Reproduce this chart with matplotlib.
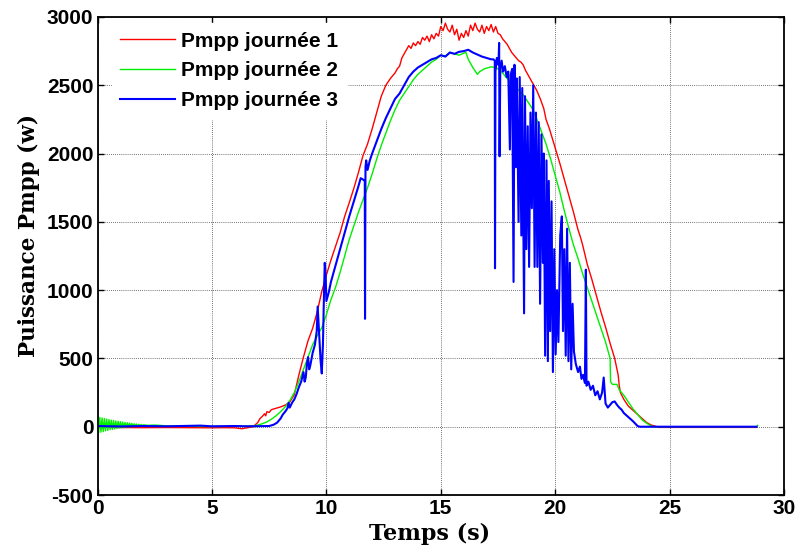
import matplotlib
matplotlib.use("Agg")
import matplotlib.pyplot as plt

plt.rcParams["axes.unicode_minus"] = False

# ---- Journée 1 (red) ----
t_j1 = [0, 0.5, 1, 2, 3, 4, 5, 5.5, 6, 6.3, 6.5, 6.8, 7.0, 7.1, 7.2, 7.3, 7.35, 7.4, 7.5, 7.6,
        7.8, 8.0, 8.2, 8.4, 8.6, 8.8, 9.0, 9.2, 9.4, 9.6, 9.8, 10.0, 10.2, 10.4, 10.6, 10.8,
        11.0, 11.2, 11.4, 11.6, 11.8, 12.0, 12.2, 12.4, 12.6, 12.8, 13.0, 13.1, 13.2, 13.3,
        13.4, 13.5, 13.6, 13.7, 13.8, 13.9, 14.0, 14.1, 14.2, 14.3, 14.4, 14.5, 14.6, 14.7,
        14.8, 14.9, 15.0, 15.1, 15.2, 15.3, 15.4, 15.5, 15.6, 15.7, 15.8, 15.9, 16.0, 16.1,
        16.2, 16.3, 16.4, 16.5, 16.6, 16.7, 16.8, 16.9, 17.0, 17.1, 17.2, 17.3, 17.4, 17.5,
        17.6, 17.7, 17.8, 17.9, 18.0, 18.1, 18.2, 18.3, 18.4, 18.5, 18.6, 18.7, 18.8, 18.9,
        19.0, 19.1, 19.2, 19.35, 19.5, 19.6, 19.75, 19.85, 20.0, 20.2, 20.4, 20.6, 20.8,
        21.0, 21.1, 21.2, 21.3, 21.4, 21.6, 21.8, 22.0, 22.2, 22.4, 22.6, 22.7, 22.75, 22.8,
        22.85, 23.0, 23.2, 23.4, 23.6, 23.8, 24.0, 24.2, 24.45, 24.5, 28.8]
p_j1 = [0, -5, -6, -7, -6, -7, -8, -7, -8, -15, -9, 0, 30, 60, 75, 95, 80, 110, 105, 125,
        135, 145, 158, 180, 235, 380, 510, 630, 720, 840, 990, 1110, 1220, 1320, 1420, 1540,
        1640, 1745, 1860, 1985, 2070, 2180, 2300, 2420, 2500, 2550, 2590, 2620, 2640, 2700,
        2730, 2760, 2790, 2770, 2810, 2790, 2820, 2800, 2850, 2830, 2860, 2820, 2870, 2840,
        2880, 2860, 2930, 2900, 2955, 2910, 2890, 2940, 2870, 2910, 2830, 2880, 2850, 2900,
        2860, 2940, 2900, 2955, 2910, 2890, 2940, 2880, 2930, 2900, 2945, 2890, 2930, 2880,
        2870, 2840, 2820, 2800, 2770, 2740, 2720, 2700, 2680, 2670, 2650, 2610, 2580, 2550,
        2520, 2490, 2460, 2400, 2330, 2250, 2180, 2125, 2040, 1930, 1810, 1690, 1570,
        1440, 1390, 1330, 1260, 1190, 1080, 960, 840, 730, 610, 500, 420, 380, 300,
        250, 200, 150, 120, 90, 60, 30, 12, 0, -5, -5]

# ---- Journée 2 (green) ----
t_j2 = [0.00, 0.05, 0.10, 0.15, 0.20, 0.25, 0.30, 0.35, 0.40, 0.45, 0.50, 0.55, 0.60, 0.65,
        0.70, 0.75, 0.80, 0.85, 0.90, 0.95, 1.00, 1.05, 1.10, 1.15, 1.20, 1.25, 1.30, 1.35,
        1.40, 1.45, 1.50, 1.55, 1.60, 1.65, 1.70, 1.75, 1.80, 1.85, 1.90, 1.95, 2.00, 2.2,
        2.5, 2.8, 3.0, 3.5, 4.0, 5.0, 6.0, 6.8, 7.0, 7.2, 7.4, 7.6, 7.8, 8.0, 8.2, 8.4, 8.6,
        8.8, 9.0, 9.2, 9.4, 9.6, 9.8, 10.0, 10.2, 10.4, 10.6, 10.8, 11.0, 11.2, 11.4, 11.6,
        11.8, 12.0, 12.2, 12.4, 12.6, 12.8, 13.0, 13.2, 13.4, 13.6, 13.8, 14.0, 14.2, 14.4,
        14.6, 14.8, 15.0, 15.2, 15.4, 15.6, 15.8, 16.0, 16.1, 16.2, 16.4, 16.6, 16.7, 16.9,
        17.2, 17.4, 17.6, 17.8, 18.0, 18.2, 18.4, 18.6, 18.8, 19.0, 19.2, 19.4, 19.6, 19.8,
        20.0, 20.2, 20.4, 20.6, 20.8, 21.0, 21.2, 21.4, 21.6, 21.8, 22.0, 22.2, 22.4, 22.42,
        22.5, 22.7, 22.75, 22.8, 23.0, 23.2, 23.4, 23.6, 23.8, 24.0, 24.2, 24.3, 28.8, 28.85]
p_j2 = [75, -45, 68, -40, 64, -36, 60, -30, 56, -28, 52, -22, 48, -20, 45, -16, 42, -13,
        40, -10, 37, -8, 34, -6, 31, -4, 29, -2, 27, 0, 24, 2, 22, 3, 20, 4, 18, 5, 16, 6, 14,
        10, 12, 9, 6, 4, 3, 2, 3, 5, 12, 22, 35, 55, 80, 110, 145, 190, 250, 330, 420, 510,
        600, 665, 725, 820, 930, 1020, 1130, 1250, 1370, 1470, 1570, 1660, 1750, 1850, 1960,
        2060, 2150, 2240, 2320, 2390, 2440, 2490, 2540, 2580, 2610, 2640, 2670, 2690, 2720,
        2715, 2740, 2730, 2720, 2735, 2740, 2690, 2630, 2580, 2600, 2620, 2635, 2630, 2610,
        2570, 2530, 2500, 2465, 2430, 2380, 2330, 2250, 2160, 2070, 1960, 1840, 1720, 1580,
        1450, 1330, 1230, 1120, 1020, 920, 820, 720, 620, 500, 330, 310, 310, 290, 270, 230,
        180, 130, 90, 50, 25, 5, 0, 0, 10]

# ---- Journée 3 (blue) ----
t_j3 = [0, 1, 2, 3, 4.5, 5, 6, 6.5, 7.0, 7.5, 7.7, 7.85, 8.0, 8.1, 8.2, 8.3, 8.35, 8.4, 8.5,
        8.6, 8.7, 8.8, 8.9, 9.0, 9.05, 9.1, 9.15, 9.2, 9.25, 9.3, 9.4, 9.5, 9.58, 9.62, 9.66,
        9.7, 9.75, 9.8, 9.85, 9.9, 9.93, 9.97, 10.0, 10.1, 10.2, 10.4, 10.6, 10.8, 11.0, 11.2,
        11.4, 11.5, 11.6, 11.68, 11.69, 11.71, 11.74, 11.8, 11.9, 12.0, 12.2, 12.4, 12.6,
        12.8, 13.0, 13.2, 13.4, 13.6, 13.8, 14.0, 14.2, 14.4, 14.6, 14.8, 15.0, 15.2, 15.4,
        15.6, 15.8, 16.0, 16.2, 16.4, 16.6, 16.8, 17.0, 17.2, 17.30, 17.36, 17.37, 17.39,
        17.45, 17.52, 17.55, 17.57, 17.60, 17.66, 17.72, 17.80, 17.88, 17.95, 18.02, 18.06,
        18.12, 18.18, 18.22, 18.28, 18.32, 18.40, 18.45, 18.52, 18.56, 18.64, 18.68, 18.74,
        18.80, 18.86, 18.92, 18.98, 19.04, 19.10, 19.16, 19.22, 19.28, 19.34, 19.40, 19.46,
        19.50, 19.56, 19.62, 19.68, 19.72, 19.78, 19.84, 19.90, 19.96, 20.02, 20.08, 20.14,
        20.22, 20.29, 20.34, 20.40, 20.46, 20.52, 20.58, 20.64, 20.70, 20.76, 20.82, 20.90,
        21.00, 21.08, 21.15, 21.22, 21.30, 21.34, 21.37, 21.45, 21.55, 21.65, 21.75, 21.85,
        21.95, 22.05, 22.12, 22.2, 22.3, 22.4, 22.5, 22.6, 22.7, 22.8, 22.9, 23.0, 23.2, 23.4,
        23.6, 23.7, 28.8]
p_j3 = [5, 2, 5, 3, 8, 3, 5, 3, 4, 5, 15, 30, 60, 90, 110, 135, 175, 140, 175,
        200, 240, 290, 330, 400, 330, 360, 460, 510, 420, 450, 540, 600, 700, 880, 760,
        640, 480, 390, 600, 1000, 1200, 1100, 920, 980, 1060, 1180, 1300, 1420, 1540, 1650,
        1760, 1820, 1810, 1800, 790, 1900, 1950, 1880, 1950, 2000, 2090, 2180, 2260,
        2330, 2400, 2440, 2500, 2560, 2600, 2630, 2650, 2670, 2690, 2700, 2720, 2710, 2740,
        2730, 2745, 2750, 2760, 2740, 2725, 2710, 2700, 2690, 2690, 2680, 1160, 2600,
        2700, 2650, 2810, 1980, 2620, 2680, 2600, 2640, 2560, 2600, 2030, 2580,
        2620, 1060, 2650, 1900, 2550, 1500, 2560, 1400, 2480, 830, 2420, 1300,
        2200, 1170, 2300, 1600, 2500, 1170, 2300, 1170, 2230, 900, 2140, 1200,
        2000, 520, 1950, 480, 1800, 700, 1650, 400, 1300, 530, 1000, 620,
        1400, 1540, 700, 1300, 520, 1450, 480, 1200, 420, 900, 550, 460,
        400, 440, 350, 380, 320, 1150, 300, 330, 270, 300, 230, 260,
        200, 250, 360, 170, 140, 160, 180, 185, 160, 140, 125, 100, 70, 40,
        5, 0, 0]

x_ticks = [0, 5, 10, 15, 20, 25, 30]
y_ticks = [-500, 0, 500, 1000, 1500, 2000, 2500, 3000]
series_labels = ["Pmpp journée 1", "Pmpp journée 2", "Pmpp journée 3"]

fig = plt.figure(figsize=(7.98, 5.46), dpi=100)
ax = fig.add_axes([0.1222, 0.0934, 0.8603, 0.8755])

ax.plot(t_j1, p_j1, color="#ff0000", lw=1.0, label=series_labels[0])
ax.plot(t_j2, p_j2, color="#00ee00", lw=1.0, label=series_labels[1])
ax.plot(t_j3, p_j3, color="#0000ff", lw=1.5, label=series_labels[2])

ax.set_xlim(0, 30)
ax.set_ylim(-500, 3000)
ax.set_xticks(x_ticks)
ax.set_yticks(y_ticks)
ax.grid(True, color="#444444", linestyle=(0, (1, 1.5)), linewidth=0.6)
ax.tick_params(direction="in", top=True, right=True, length=4, width=1,
               labelsize=15, pad=3)
for lab in ax.get_xticklabels() + ax.get_yticklabels():
    lab.set_fontfamily("Liberation Sans")
    lab.set_fontweight("bold")
for sp in ax.spines.values():
    sp.set_linewidth(1.3)

ax.set_xlabel("Temps (s)", fontsize=16, fontweight="bold", family="DejaVu Serif")
ax.set_ylabel("Puissance Pmpp (w)", fontsize=15.5, fontweight="bold", family="DejaVu Serif")
ax.xaxis.set_label_coords(0.484, -0.058)
ax.yaxis.set_label_coords(-0.0835, 0.542)

leg = ax.legend(loc="upper left", bbox_to_anchor=(0.0204, 0.987), frameon=True,
                fancybox=False, edgecolor="white", framealpha=1.0, borderaxespad=0.0,
                borderpad=0.4, handlelength=2.65, handletextpad=0.3, labelspacing=0.52,
                prop={"family": "Liberation Sans", "weight": "bold", "size": 15})

fig.savefig("out.png", dpi=100)
